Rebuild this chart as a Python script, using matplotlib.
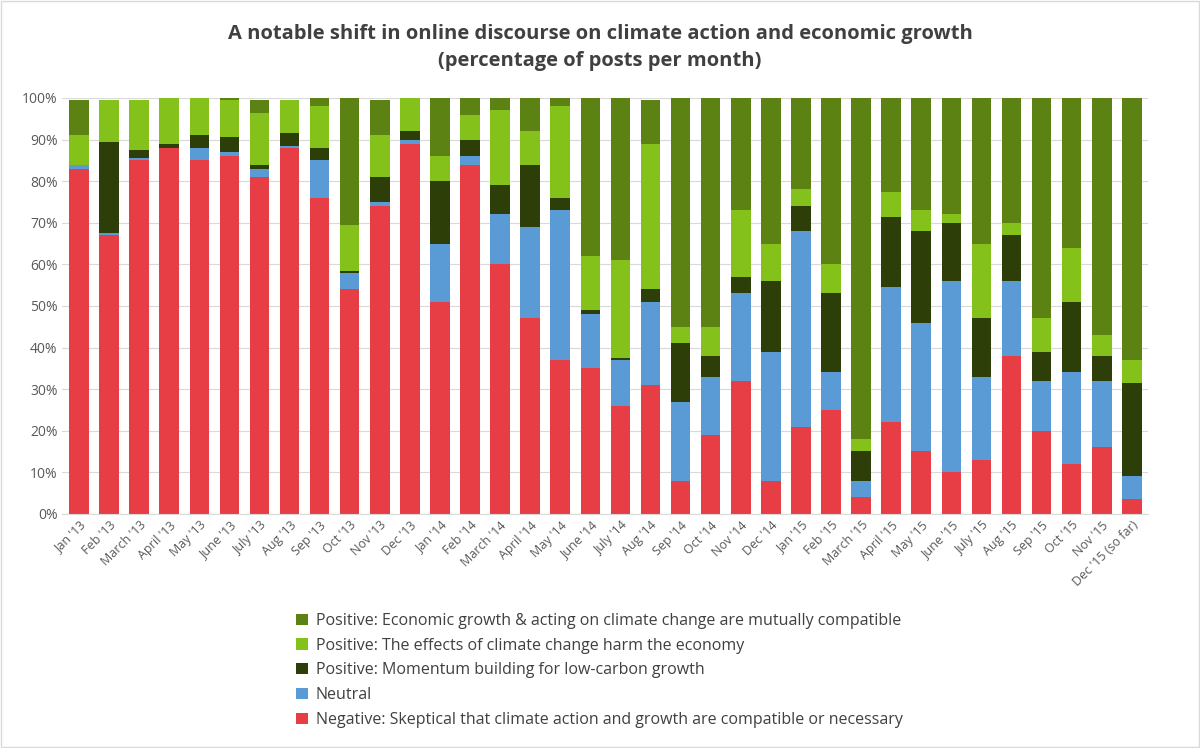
import matplotlib.pyplot as plt
import numpy as np

plt.rcParams["font.family"] = ["Open Sans", "DejaVu Sans"]

months = ["Jan '13", "Feb '13", "March '13", "April '13", "May '13", "June '13",
          "July '13", "Aug '13", "Sep '13", "Oct '13", "Nov '13", "Dec '13",
          "Jan '14", "Feb '14", "March '14", "April '14", "May '14", "June '14",
          "July '14", "Aug '14", "Sep '14", "Oct '14", "Nov '14", "Dec '14",
          "Jan '15", "Feb '15", "March '15", "April '15", "May '15", "June '15",
          "July '15", "Aug '15", "Sep '15", "Oct '15", "Nov '15", "Dec '15 (so far)"]

# cumulative tops
negative_top = [83, 67, 85, 88, 85, 86, 81, 88, 76, 54, 74, 89, 51, 84, 60, 47, 37, 35,
                26, 31, 8, 19, 32, 8, 21, 25, 4, 22, 15, 10, 13, 38, 20, 12, 16, 3.5]
neutral_top = [84, 67.5, 85.5, 88, 88, 87, 83, 88.5, 85, 58, 75, 90, 65, 86, 72, 69, 73, 48,
               37, 51, 27, 33, 53, 39, 68, 34, 8, 54.5, 46, 56, 33, 56, 32, 34, 32, 9]
momentum_top = [84, 89.5, 87.5, 89, 91, 90.5, 84, 91.5, 88, 58.3, 81, 92, 80, 90, 79, 84, 76, 49,
                37.5, 54, 41, 38, 57, 56, 74, 53, 15, 71.5, 68, 70, 47, 67, 39, 51, 38, 31.5]
harm_top = [91, 99.5, 99.5, 100, 100, 99.5, 96.5, 99.5, 98, 69.5, 91, 100, 86, 96, 97, 92, 98, 62,
            61, 89, 45, 45, 73, 65, 78, 60, 18, 77.5, 73, 72, 65, 70, 47, 64, 43, 37]
total_top = [99.5, 99.5, 99.5, 100, 100, 100, 99.5, 99.5, 100, 100, 99.5, 100] + [100] * 6 + \
            [100, 99.5] + [100] * 16

labels = ["Negative: Skeptical that climate action and growth are compatible or necessary",
          "Neutral",
          "Positive: Momentum building for low-carbon growth",
          "Positive: The effects of climate change harm the economy",
          "Positive: Economic growth & acting on climate change are mutually compatible"]
colors = ["#E63E44", "#5B9BD5", "#2D3E09", "#84C11A", "#5B8212"]

tops = np.array([negative_top, neutral_top, momentum_top, harm_top, total_top])
bottoms = np.vstack([np.zeros(len(months)), tops[:-1]])
heights = tops - bottoms

fig = plt.figure(figsize=(12, 7.48), dpi=100)
ax = fig.add_axes([0.052, 0.313, 0.905, 0.556])
x = np.arange(len(months))
handles = []
for h, b, c, lab in zip(heights, bottoms, colors, labels):
    handles.append(ax.bar(x, h, bottom=b, width=0.65, color=c, label=lab))

ax.set_xlim(-0.55, len(months) - 0.45)
ax.set_ylim(0, 100)
ax.set_yticks(np.arange(0, 101, 10))
ax.set_yticklabels([f"{v}%" for v in range(0, 101, 10)], fontsize=10, color="#595959")
ax.set_xticks(x)
ax.set_xticklabels(months, rotation=45, ha="right", rotation_mode="anchor",
                   fontsize=9, color="#595959")
ax.tick_params(length=0)
ax.grid(axis="y", color="#d9d9d9", linewidth=0.8)
ax.set_axisbelow(True)
for s in ["top", "right", "left"]:
    ax.spines[s].set_visible(False)
ax.spines["bottom"].set_color("#d9d9d9")

fig.text(0.5, 0.955, "A notable shift in online discourse on climate action and economic growth",
         ha="center", va="center", fontsize=14.5, fontweight="bold", color="#404040")
fig.text(0.5, 0.918, "(percentage of posts per month)",
         ha="center", va="center", fontsize=14.5, fontweight="bold", color="#404040")

fig.legend(handles[::-1], labels[::-1], loc="upper left", bbox_to_anchor=(0.235, 0.2),
           frameon=False, fontsize=11.5, handlelength=0.7, handleheight=0.7,
           labelspacing=0.55, handletextpad=0.5, labelcolor="#404040")

fig.patches.append(plt.Rectangle((0.001, 0.001), 0.998, 0.998, transform=fig.transFigure,
                                 fill=False, edgecolor="#d9d9d9", linewidth=1))
fig.savefig("out.png", dpi=100, facecolor="white")
